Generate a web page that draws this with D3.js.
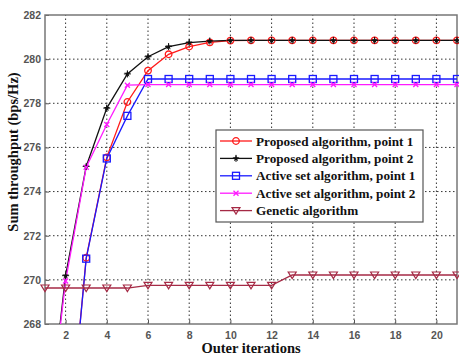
<!DOCTYPE html>
<html>
<head>
<meta charset="utf-8">
<script src="https://cdn.jsdelivr.net/npm/d3@7"></script>
<style>
  body { margin: 0; background: #fff; }
  .tick text { font-family: "Liberation Sans Narrow", "Liberation Sans", Arial, sans-serif; font-size: 10.5px; font-weight: bold; fill: #555; }
  .title { font-family: "Liberation Serif", "Times New Roman", serif; font-weight: bold; font-size: 14.5px; fill: #111; }
  .leg text { font-family: "Liberation Serif", "Times New Roman", serif; font-weight: bold; font-size: 13.2px; fill: #111; }
</style>
</head>
<body>
<div id="chart"></div>
<script>
// iterations 1..21
const iterations = d3.range(1, 22);

const proposed1 = [250, 261, 271.0, 275.55, 278.06, 279.48, 280.22, 280.57, 280.76, 280.84,
  280.85, 280.85, 280.85, 280.85, 280.85, 280.85, 280.85, 280.85, 280.85, 280.85, 280.85];
const proposed2 = [262, 270.19, 275.14, 277.78, 279.33, 280.11, 280.57, 280.75, 280.82, 280.85,
  280.85, 280.85, 280.85, 280.85, 280.85, 280.85, 280.85, 280.85, 280.85, 280.85, 280.85];
const activeSet1 = [250, 261, 270.96, 275.5, 277.43, 279.1, 279.1, 279.1, 279.1, 279.1,
  279.1, 279.1, 279.1, 279.1, 279.1, 279.1, 279.1, 279.1, 279.1, 279.1, 279.1];
const activeSet2 = [262, 269.95, 275.1, 277.04, 278.82, 278.85, 278.85, 278.85, 278.85, 278.85,
  278.85, 278.85, 278.85, 278.85, 278.85, 278.85, 278.85, 278.85, 278.85, 278.85, 278.85];
const genetic = [269.63, 269.63, 269.63, 269.63, 269.63, 269.75, 269.75, 269.75, 269.75, 269.75,
  269.75, 269.75, 270.22, 270.22, 270.22, 270.22, 270.22, 270.22, 270.22, 270.22, 270.22];

const xTicks = [2, 4, 6, 8, 10, 12, 14, 16, 18, 20];
const yTicks = [268, 270, 272, 274, 276, 278, 280, 282];

const seriesNames = ["Proposed algorithm, point 1", "Proposed algorithm, point 2",
  "Active set algorithm, point 1", "Active set algorithm, point 2", "Genetic algorithm"];

const width = 459, height = 356;
const margin = { top: 15, right: 2, bottom: 32, left: 45 };

const series = [
  { name: seriesNames[0], values: proposed1, color: "#ff1a1a", marker: "circle" },
  { name: seriesNames[1], values: proposed2, color: "#111111", marker: "star" },
  { name: seriesNames[2], values: activeSet1, color: "#1a1aff", marker: "square" },
  { name: seriesNames[3], values: activeSet2, color: "#ff1aff", marker: "cross" },
  { name: seriesNames[4], values: genetic, color: "#a52a45", marker: "triangle" }
];

const svg = d3.select("#chart").append("svg")
  .attr("width", width)
  .attr("height", height);

const x = d3.scaleLinear().domain([1, 21]).range([margin.left, width - margin.right]);
const y = d3.scaleLinear().domain([268, 282]).range([height - margin.bottom, margin.top]);

svg.append("clipPath").attr("id", "clip")
  .append("rect")
  .attr("x", margin.left).attr("y", margin.top)
  .attr("width", x.range()[1] - margin.left)
  .attr("height", y.range()[0] - margin.top);

// grid
const grid = svg.append("g").attr("stroke", "#333").attr("stroke-width", 1).attr("stroke-dasharray", "1.5,2.5");
grid.selectAll(".gx").data(xTicks).enter().append("line")
  .attr("x1", d => x(d)).attr("x2", d => x(d))
  .attr("y1", y(268)).attr("y2", y(282));
grid.selectAll(".gy").data(yTicks.slice(1, -1)).enter().append("line")
  .attr("x1", x(1)).attr("x2", x(21))
  .attr("y1", d => y(d)).attr("y2", d => y(d));

// axes
const xAxis = svg.append("g")
  .attr("transform", `translate(0,${y(268)})`)
  .call(d3.axisBottom(x).tickValues(xTicks).tickSize(-4).tickPadding(8));
const yAxis = svg.append("g")
  .attr("transform", `translate(${x(1)},0)`)
  .call(d3.axisLeft(y).tickValues(yTicks).tickSize(-4).tickPadding(4));
[xAxis, yAxis].forEach(a => {
  a.select(".domain").remove();
  a.selectAll(".tick line").attr("stroke", "#555");
});

svg.append("rect")
  .attr("x", x(1)).attr("y", y(282))
  .attr("width", x(21) - x(1)).attr("height", y(268) - y(282))
  .attr("fill", "none").attr("stroke", "#777").attr("stroke-width", 1.5);

function drawMarker(g, type, color) {
  if (type === "circle") {
    g.append("circle").attr("r", 3.3).attr("fill", "none").attr("stroke", color).attr("stroke-width", 1.3);
  } else if (type === "star") {
    g.append("path").attr("d", d3.symbol(d3.symbolStar, 14)()).attr("fill", color);
    g.append("path").attr("d", "M-3.5,0L3.5,0M0,-3.5L0,3.5").attr("stroke", color).attr("stroke-width", 1);
  } else if (type === "square") {
    g.append("rect").attr("x", -3.5).attr("y", -3.5).attr("width", 7).attr("height", 7)
      .attr("fill", "none").attr("stroke", color).attr("stroke-width", 1.3);
  } else if (type === "cross") {
    g.append("path").attr("d", "M-2.5,-2.5L2.5,2.5M-2.5,2.5L2.5,-2.5")
      .attr("stroke", color).attr("stroke-width", 1.3);
  } else if (type === "triangle") {
    g.append("path").attr("d", "M-4,-3L4,-3L0,3.5Z")
      .attr("fill", "none").attr("stroke", color).attr("stroke-width", 1.2);
  }
}

const line = d3.line().x((d, i) => x(iterations[i])).y(d => y(d));
const plot = svg.append("g").attr("clip-path", "url(#clip)");

series.forEach(s => {
  plot.append("path")
    .datum(s.values)
    .attr("d", line)
    .attr("fill", "none")
    .attr("stroke", s.color)
    .attr("stroke-width", 1.3);
  s.values.forEach((v, i) => {
    if (v < 268) return;
    const g = svg.append("g").attr("transform", `translate(${x(iterations[i])},${y(v)})`);
    drawMarker(g, s.marker, s.color);
  });
});

// legend
const leg = svg.append("g").attr("class", "leg").attr("transform", "translate(216,130)");
leg.append("rect").attr("width", 207).attr("height", 92)
  .attr("fill", "#fff").attr("stroke", "#555").attr("stroke-width", 1.2);
series.forEach((s, i) => {
  const g = leg.append("g").attr("transform", `translate(0,${11 + i * 17.4})`);
  g.append("line").attr("x1", 4).attr("x2", 36).attr("stroke", s.color).attr("stroke-width", 1.3);
  drawMarker(g.append("g").attr("transform", "translate(20,0)"), s.marker, s.color);
  g.append("text").attr("x", 40).attr("dy", "0.35em").text(s.name);
});

// titles
svg.append("text").attr("class", "title")
  .attr("x", (x(1) + x(21)) / 2).attr("y", 353)
  .attr("text-anchor", "middle")
  .text("Outer iterations");
svg.append("text").attr("class", "title")
  .attr("transform", `translate(18,152) rotate(-90)`)
  .attr("text-anchor", "middle")
  .text("Sum throughput (bps/Hz)");
</script>
</body>
</html>
